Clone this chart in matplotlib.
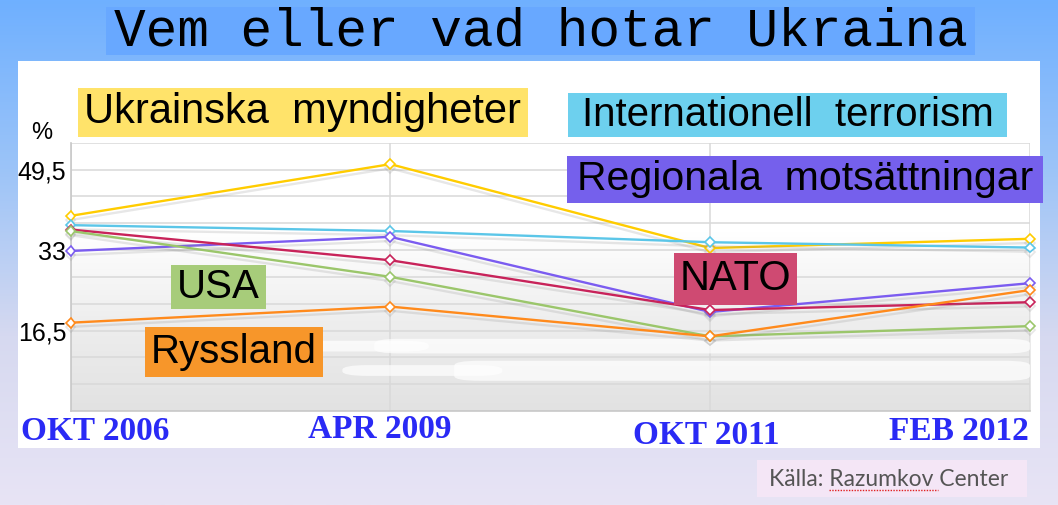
import matplotlib
matplotlib.use("Agg")
import matplotlib.pyplot as plt
import matplotlib.patheffects as pe
from matplotlib.patches import Rectangle, FancyBboxPatch
from matplotlib.colors import LinearSegmentedColormap
import numpy as np

# data (percent)
periods = ["OKT 2006", "APR 2009", "OKT 2011", "FEB 2012"]
ukr_myndigheter = [40.0, 50.6, 33.4, 35.3]
int_terrorism = [38.1, 36.9, 34.6, 33.5]
regionala = [32.8, 35.7, 20.3, 26.2]
nato = [37.2, 30.9, 20.7, 22.3]
usa = [36.9, 27.5, 15.3, 17.4]
ryssland = [18.1, 21.4, 15.3, 24.8]
ytick_vals = [16.5, 33, 49.5]
ytick_labels = ["16,5", "33", "49,5"]

W, H = 1058, 505
fig = plt.figure(figsize=(W / 100, H / 100), dpi=100)

# background with gradient, white panel and title box
bg = fig.add_axes([0, 0, 1, 1], zorder=-1)
bg.set_axis_off()
bg_cmap = LinearSegmentedColormap.from_list("bg", ["#6fb0ff", "#9cc4f8", "#d6d9f0", "#e8e4f5"])
bg.imshow(np.linspace(0, 1, 256).reshape(-1, 1), cmap=bg_cmap, aspect="auto",
          extent=(0, 1, 0, 1), origin="upper")
bg.set_xlim(0, 1)
bg.set_ylim(0, 1)


def px_rect(axis, x0, y0, x1, y1, color, z=1):
    axis.add_patch(Rectangle((x0 / W, 1 - y1 / H), (x1 - x0) / W, (y1 - y0) / H,
                             facecolor=color, edgecolor="none", zorder=z))


px_rect(bg, 18, 61, 1040, 448, "white")
px_rect(bg, 106, 7, 975, 55, "#68a8ff")
bg.text((106 + 975) / 2 / W, 1 - 31 / H, "Vem eller vad hotar Ukraina",
        ha="center", va="center", fontsize=38, family="Liberation Mono", color="black", zorder=3)

# main chart
ax = fig.add_axes([70.5 / W, 1 - 411 / H, (1030 - 70.5) / W, (411 - 142.7) / H])
ax.set_facecolor("none")
x = np.arange(len(periods))
ax.set_xlim(0, 3)
ax.set_ylim(0, 55)

gray_cmap = LinearSegmentedColormap.from_list("g", ["#ffffff", "#ffffff", "#eeeeee", "#e2e2e2"])
ax.imshow(np.linspace(0, 1, 256).reshape(-1, 1), cmap=gray_cmap, aspect="auto",
          extent=(0, 3, 0, 55), origin="upper", zorder=0)

ax.set_xticks(x)
ax.set_xticklabels([])
ax.set_yticks(ytick_vals)
ax.set_yticklabels(ytick_labels, fontsize=18, family="Liberation Sans")
ax.set_yticks(np.arange(0, 55.1, 5.5), minor=True)
ax.tick_params(which="both", length=0, pad=3)
ax.grid(True, which="both", color="#d9d9d9", linewidth=1.1, zorder=1)
ax.set_axisbelow(True)
for s in ["top", "right"]:
    ax.spines[s].set_visible(False)
for s in ["left", "bottom"]:
    ax.spines[s].set_color("#c8c8c8")
    ax.spines[s].set_linewidth(1.2)

# faint white smudges in the lower part of the plot
for x0, y0, w, h in [(0.95, 11.8, 2.05, 3.0), (0.62, 12.2, 0.5, 2.2), (1.2, 6.2, 1.8, 4.1), (0.85, 7.2, 0.5, 2.2)]:
    ax.add_patch(FancyBboxPatch((x0, y0), w, h, boxstyle="round,pad=0,rounding_size=0.08",
                                mutation_aspect=12, facecolor="white", edgecolor="none",
                                alpha=0.7, zorder=1.5))

series = [
    (ukr_myndigheter, "#ffcc00"),
    (int_terrorism, "#5bc6e8"),
    (regionala, "#7b5cf0"),
    (nato, "#c8235a"),
    (usa, "#9bc66b"),
    (ryssland, "#ff8a1c"),
]
shadow = [pe.SimpleLineShadow(offset=(0, -3), shadow_color="#888888", alpha=0.2), pe.Normal()]
for vals, col in series:
    ax.plot(x, vals, color=col, linewidth=1.7, marker="D", markersize=5,
            markerfacecolor="white", markeredgecolor=col, markeredgewidth=1.2,
            path_effects=shadow, zorder=3, clip_on=False)

fig.text(42 / W, 1 - 133 / H, "%", ha="center", va="center", fontsize=17, family="Liberation Sans")

# category labels under the chart
label_pos = [(95, 432), (380, 430), (706, 435), (959, 432)]
for lab, (lx, ly) in zip(periods, label_pos):
    fig.text(lx / W, 1 - ly / H, lab, ha="center", va="center", fontsize=24,
             family="Liberation Serif", fontweight="bold", color="#2a2af5")

# series name boxes
boxes = [
    ("Ukrainska  myndigheter", 78, 88, 528, 137, "#ffe36a", 30),
    ("Internationell  terrorism", 568, 93, 1007, 137, "#6dd0ee", 29),
    ("Regionala  motsättningar", 567, 156, 1043, 203, "#7560ec", 29.5),
    ("USA", 171, 265, 266, 309, "#a7cc7a", 29),
    ("NATO", 674, 253, 797, 305, "#cf4a72", 30),
    ("Ryssland", 145, 327, 323, 377, "#f7962a", 29),
]
for txt, x0, y0, x1, y1, col, fs in boxes:
    fig.patches.append(Rectangle((x0 / W, 1 - y1 / H), (x1 - x0) / W, (y1 - y0) / H,
                                 transform=fig.transFigure, facecolor=col,
                                 edgecolor="none", zorder=5))
    fig.text((x0 + x1) / 2 / W, 1 - (y0 + y1) / 2 / H, txt, ha="center", va="center",
             fontsize=fs, family="Liberation Sans", color="black", zorder=6)

# source note
fig.patches.append(Rectangle((757 / W, 1 - 497 / H), 270 / W, 37 / H, transform=fig.transFigure,
                             facecolor="#f4e6f6", edgecolor="none", zorder=5))
fig.text(889 / W, 1 - 479 / H, "Källa: Razumkov Center", ha="center", va="center",
         fontsize=16.5, family="Lato", color="#555555", zorder=6)
fig.lines.append(plt.Line2D([829 / W, 938 / W], [1 - 490 / H, 1 - 490 / H], transform=fig.transFigure,
                            color="#e02020", linewidth=1, linestyle=(0, (1, 1)), zorder=7))

fig.savefig("out.png", dpi=100)
